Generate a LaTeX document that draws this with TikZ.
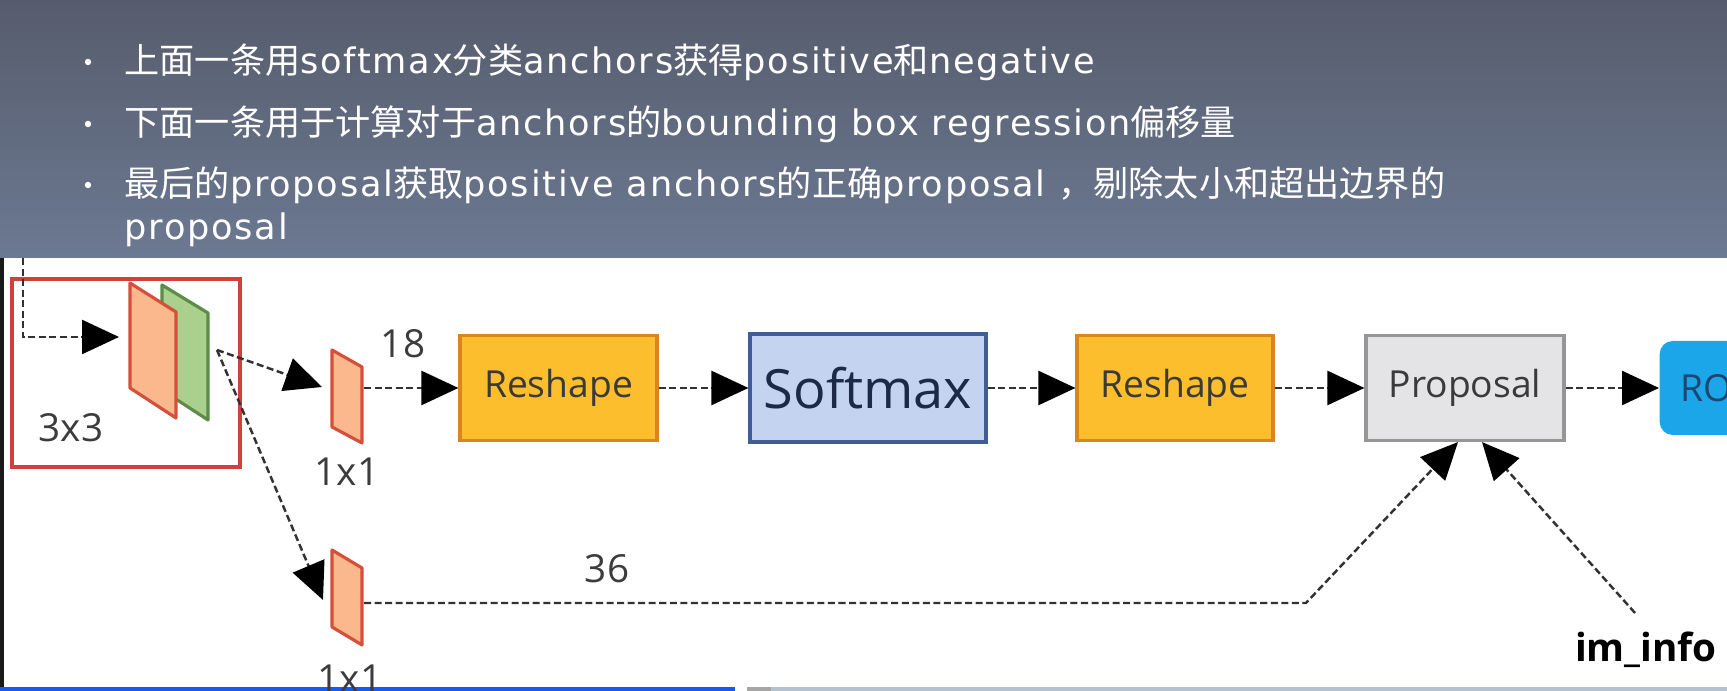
\documentclass[tikz,border=0pt]{standalone}
\usepackage{fontspec}
\setmainfont{Open Sans}
\newfontfamily\cjkfont{Noto Sans CJK SC}
\newfontfamily\latfont[LetterSpace=5]{DejaVu Sans}
\usetikzlibrary{arrows.meta, calc, positioning}
\definecolor{hdrtop}{RGB}{86, 92, 108}
\definecolor{hdrbot}{RGB}{108, 121, 146}
\definecolor{convred}{RGB}{208, 64, 60}
\definecolor{mapfill}{RGB}{250, 184, 140}
\definecolor{mapline}{RGB}{212, 80, 58}
\definecolor{grnfill}{RGB}{170, 208, 142}
\definecolor{grnline}{RGB}{92, 140, 72}
\definecolor{reshfill}{RGB}{253, 190, 45}
\definecolor{reshline}{RGB}{214, 136, 30}
\definecolor{smfill}{RGB}{196, 212, 240}
\definecolor{smline}{RGB}{62, 94, 148}
\definecolor{smtext}{RGB}{28, 42, 69}
\definecolor{propfill}{RGB}{228, 228, 230}
\definecolor{propline}{RGB}{150, 150, 150}
\definecolor{roifill}{RGB}{27, 166, 234}
\definecolor{roitext}{RGB}{30, 70, 110}
\definecolor{textgray}{RGB}{58, 58, 58}
\definecolor{labelgray}{RGB}{60, 60, 60}
\definecolor{linkgray}{RGB}{50, 50, 50}
\definecolor{barblue}{RGB}{20, 90, 245}
\definecolor{bargray}{RGB}{182, 193, 208}
\newcommand\zh[1]{{\cjkfont #1}}

\begin{document}
\begin{tikzpicture}[
  link/.style={draw=linkgray, line width=0.7pt, dash pattern=on 2pt off 1pt,
    -{Triangle[length=0.37cm, width=0.34cm, color=black]}},
  hdrline/.style={anchor=base west, inner sep=0pt, text=white,
    font=\fontsize{10}{12}\selectfont\latfont},
  numlabel/.style={text=labelgray, font=\fontsize{11}{13}\selectfont},
  stagebox/.style={draw, line width=0.9pt, minimum height=1.05cm, text=textgray,
    font=\fontsize{10.6}{12}\selectfont},
  fmap/.style={line width=0.9pt, line join=round}
]
  \useasboundingbox (0,0) rectangle (17.27,6.91);
  \clip (0,0) rectangle (17.27,6.91);

  % header band
  \shade[top color=hdrtop, bottom color=hdrbot] (0,4.33) rectangle (17.27,6.91);
  \foreach \y in {6.29, 5.67, 5.06}
    \fill[white] (0.88,\y) circle (0.032);
  \node[hdrline] (line1) at (1.24,6.17)
    {\zh{上面一条用}softmax\zh{分类}anchors\zh{获得}positive\zh{和}negative};
  \node[hdrline] (line2) at (1.24,5.55)
    {\zh{下面一条用于计算对于}anchors\zh{的}bounding box regression\zh{偏移量}};
  \node[hdrline] (line3) at (1.24,4.94)
    {\zh{最后的}proposal\zh{获取}positive anchors\zh{的正确}proposal \zh{，剔除太小和超出边界的}};
  \node[hdrline] (line4) at (1.24,4.51) {proposal};

  % frame strips
  \fill[black!90] (0,0) rectangle (0.04,4.33);
  \fill[barblue] (0,0) rectangle (7.35,0.035);
  \fill[black!35] (7.47,0) rectangle (7.71,0.035);
  \fill[bargray] (7.71,0) rectangle (17.27,0.035);

  % 3x3 conv
  \node[draw=convred, line width=1pt, minimum width=2.28cm, minimum height=1.88cm] (conv) at (1.26,3.18) {};
  \node[numlabel] (k3) at (0.71,2.63) {3x3};
  \draw[fmap, fill=grnfill, draw=grnline] (1.62,4.06) -- (2.08,3.78) -- (2.08,2.71) -- (1.62,3.01) -- cycle;
  \draw[fmap, fill=mapfill, draw=mapline] (1.30,4.08) -- (1.76,3.79) -- (1.76,2.73) -- (1.30,3.03) -- cycle;

  % 1x1 convs
  \draw[fmap, fill=mapfill, draw=mapline] (3.32,3.41) -- (3.62,3.24) -- (3.62,2.48) -- (3.32,2.64) -- cycle;
  \draw[fmap, fill=mapfill, draw=mapline] (3.32,1.41) -- (3.62,1.23) -- (3.62,0.46) -- (3.32,0.64) -- cycle;
  \node[numlabel] (k1a) at (3.47,2.19) {1x1};
  \node[numlabel] (k1b) at (3.50,0.12) {1x1};
  \node[numlabel] (n18) at (4.03,3.47) {18};
  \node[numlabel] (n36) at (6.07,1.22) {36};

  % stages
  \node[stagebox, draw=reshline, fill=reshfill, minimum width=1.97cm] (resh1) at (5.585,3.03) {Reshape};
  \node[stagebox, draw=smline, fill=smfill, minimum width=2.36cm, minimum height=1.08cm,
    text=smtext, font=\fontsize{15.4}{17}\selectfont] (smax) at (8.68,3.03) {Softmax};
  \node[stagebox, draw=reshline, fill=reshfill, minimum width=1.96cm] (resh2) at (11.75,3.03) {Reshape};
  \node[stagebox, draw=propline, fill=propfill, minimum width=1.98cm] (prop) at (14.65,3.03) {Proposal};
  \node[fill=roifill, rounded corners=0.13cm, minimum height=0.94cm, inner xsep=0.21cm,
    anchor=west, text=roitext, font=\fontsize{10.6}{12}\selectfont] (roi) at (16.59,3.03) {RO};
  \node[text=black, font=\bfseries\fontsize{11}{13}\selectfont] (iminfo) at (16.46,0.41) {im\_info};

  % connectors
  \coordinate (in) at (0.23,4.33);
  \coordinate (mapin) at (1.19,3.54);
  \coordinate (mapout) at (2.17,3.41);
  \coordinate (clsin) at (3.22,3.04);
  \coordinate (clsout) at (3.64,3.03);
  \coordinate (regin) at (3.23,0.91);
  \coordinate (regout) at (3.64,0.88);
  \coordinate (bend) at (13.06,0.88);
  \coordinate (imtail) at (16.35,0.78);

  \draw[link] (in) |- (mapin);
  \draw[link] (mapout) -- (clsin);
  \draw[link] (mapout) -- (regin);
  \draw[link] (clsout) -- (resh1);
  \draw[link] (resh1) -- (smax);
  \draw[link] (smax) -- (resh2);
  \draw[link] (resh2) -- (prop);
  \draw[link] (prop) -- (roi);
  \draw[link] (regout) -- (bend) -- ($(prop.south)+(-0.07,0)$);
  \draw[link] (imtail) -- ($(prop.south)+(0.17,0)$);
\end{tikzpicture}
\end{document}
